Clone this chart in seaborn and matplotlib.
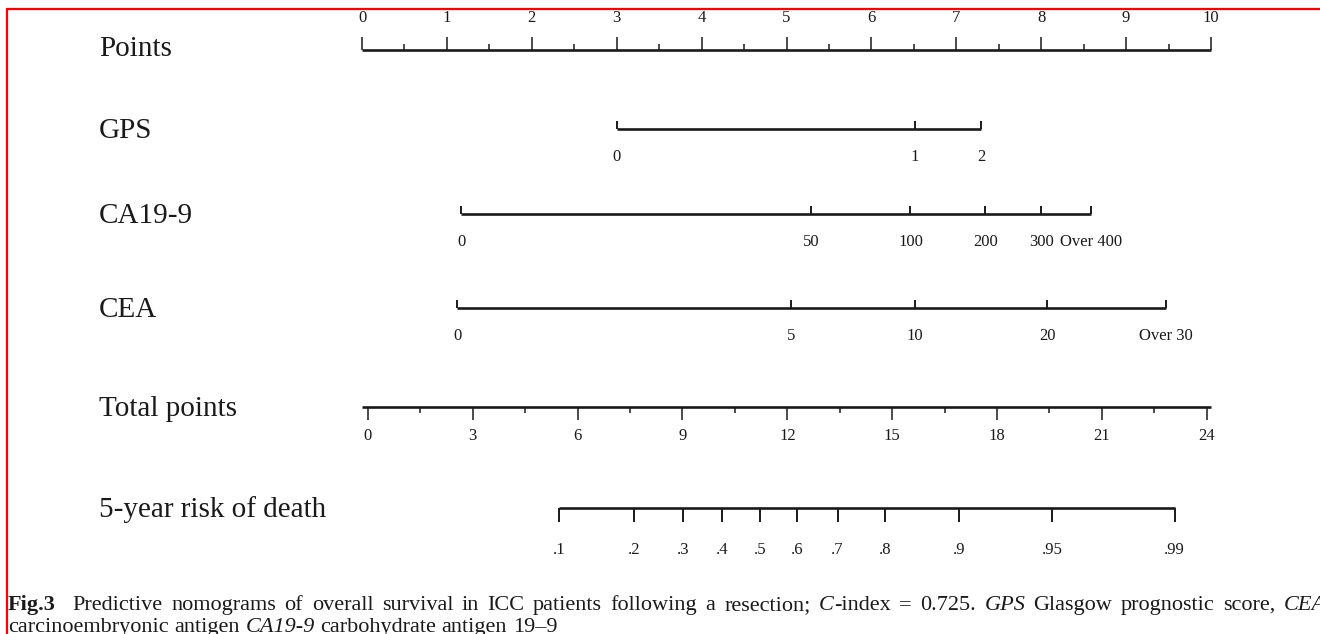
"""
Nomogram for 5-year risk of death after ICC resection (Fig.3 recreation)
"""
import matplotlib
matplotlib.use("Agg")
import matplotlib.pyplot as plt
import matplotlib.transforms as mtransforms
import seaborn as sns

# ── Data (positions on the 0–10 "Points" axis) ──────────────────────────────

points_major = [0, 1, 2, 3, 4, 5, 6, 7, 8, 9, 10]
points_minor = [0.5, 1.5, 2.5, 3.5, 4.5, 5.5, 6.5, 7.5, 8.5, 9.5]

gps_labels = ["0", "1", "2"]
gps_points = [3.00, 6.51, 7.29]

ca199_labels = ["0", "50", "100", "200", "300", "Over 400"]
ca199_points = [1.17, 5.29, 6.46, 7.34, 8.00, 8.59]

cea_labels = ["0", "5", "10", "20", "Over 30"]
cea_points = [1.12, 5.05, 6.51, 8.07, 9.47]

total_major = [0, 3, 6, 9, 12, 15, 18, 21, 24]
total_minor = [1.5, 4.5, 7.5, 10.5, 13.5, 16.5, 19.5, 22.5]
total_ends = (0.07, 9.95)      # total points 0 and 24 on the Points axis

risk_labels = [".1", ".2", ".3", ".4", ".5", ".6", ".7", ".8", ".9", ".95", ".99"]
risk_total = [5.46, 7.61, 9.01, 10.13, 11.21, 12.27, 13.44, 14.79, 16.91, 19.57, 23.08]

row_names = ["Points", "GPS", "CA19-9", "CEA", "Total points", "5-year risk of death"]

# caption tokens: (text, style, weight, spaces after)
caption_1 = [
    ("Fig.3", "normal", "bold", 2),
    ("Predictive", "normal", "normal", 1), ("nomograms", "normal", "normal", 1),
    ("of", "normal", "normal", 1), ("overall", "normal", "normal", 1),
    ("survival", "normal", "normal", 1), ("in", "normal", "normal", 1),
    ("ICC", "normal", "normal", 1), ("patients", "normal", "normal", 1),
    ("following", "normal", "normal", 1), ("a", "normal", "normal", 1),
    ("resection;", "normal", "normal", 1),
    ("C", "italic", "normal", 0), ("-index", "normal", "normal", 1),
    ("=", "normal", "normal", 1), ("0.725.", "normal", "normal", 1),
    ("GPS", "italic", "normal", 1), ("Glasgow", "normal", "normal", 1),
    ("prognostic", "normal", "normal", 1), ("score,", "normal", "normal", 1),
    ("CEA", "italic", "normal", 0),
]
caption_2 = [
    ("carcinoembryonic", "normal", "normal", 1), ("antigen", "normal", "normal", 1),
    ("CA19-9", "italic", "normal", 1), ("carbohydrate", "normal", "normal", 1),
    ("antigen", "normal", "normal", 1), ("19\u20139", "normal", "normal", 0),
]

# ── Layout (pixels of the 1320x634 canvas) ───────────────────────────────────

W, H = 1320, 634
PX0, PX_PER_PT = 362, 84.9
ROW_Y = [50, 129, 214, 308, 407, 508]

sns.set_theme(style="white")
plt.rcParams["font.family"] = ["Liberation Serif", "DejaVu Serif"]

INK = "#1a1a1a"
LW_AXIS = 1.9
LW_TICK = 1.1
FS_TICK = 12
FS_ROW = 21
FS_CAP = 16


def tp_to_pts(tp):
    lo, hi = total_ends
    return [lo + t * (hi - lo) / 24 for t in tp]


fig = plt.figure(figsize=(W / 100, H / 100), dpi=100)
ax = fig.add_axes([0, 0, 1, 1])
ax.set_xlim(-PX0 / PX_PER_PT, (W - PX0) / PX_PER_PT)
ax.set_ylim(H, 0)
ax.set_axis_off()

# pixel transform (origin top-left) for frame, row names and caption
pix = mtransforms.Affine2D().scale(1 / W, -1 / H).translate(0, 1) + fig.transFigure

# ── Points ─────────────────────────────────────────────────────────────────────
y = ROW_Y[0]
ax.hlines(y, 0, 10, color=INK, lw=LW_AXIS)
ax.vlines(points_major, y - 13, y, color=INK, lw=LW_TICK)
ax.vlines(points_minor, y - 6, y, color=INK, lw=LW_TICK)
for v in points_major:
    ax.text(v, 18, str(v), ha="center", va="center", fontsize=FS_TICK, color=INK)

# ── Predictor scales (ticks up, labels below) ─────────────────────────────────
for y, pts, labs in [(ROW_Y[1], gps_points, gps_labels),
                     (ROW_Y[2], ca199_points, ca199_labels),
                     (ROW_Y[3], cea_points, cea_labels)]:
    ax.hlines(y, pts[0], pts[-1], color=INK, lw=LW_AXIS)
    ax.vlines(pts, y - 8, y, color=INK, lw=1.4)
    for p, lab in zip(pts, labs):
        ax.text(p, y + 28, lab, ha="center", va="center", fontsize=FS_TICK, color=INK)

# ── Total points ───────────────────────────────────────────────────────────────
y = ROW_Y[4]
ax.hlines(y, 0, 10, color=INK, lw=LW_AXIS)
ax.vlines(tp_to_pts(total_major), y, y + 13, color=INK, lw=LW_TICK)
ax.vlines(tp_to_pts(total_minor), y, y + 6, color=INK, lw=LW_TICK)
for p, v in zip(tp_to_pts(total_major), total_major):
    ax.text(p, y + 29, str(v), ha="center", va="center", fontsize=FS_TICK, color=INK)

# ── 5-year risk of death ───────────────────────────────────────────────────────
y = ROW_Y[5]
risk_pts = tp_to_pts(risk_total)
ax.hlines(y, risk_pts[0], risk_pts[-1], color=INK, lw=LW_AXIS)
ax.vlines(risk_pts, y, y + 14, color=INK, lw=1.4)
for p, lab in zip(risk_pts, risk_labels):
    ax.text(p, y + 42, lab, ha="center", va="center", fontsize=FS_TICK, color=INK)

# ── Row names ──────────────────────────────────────────────────────────────────
for name, ry in zip(row_names, ROW_Y):
    off = 6 if name == "Points" else 9
    ax.text(99, ry + off, name, transform=pix, ha="left", va="baseline",
            fontsize=FS_ROW, color=INK)

# ── Red frame (top and left edges) ─────────────────────────────────────────────
ax.plot([7, W], [9, 9], color="red", lw=1.6, transform=pix, clip_on=False)
ax.plot([7, 7], [9, H], color="red", lw=1.6, transform=pix, clip_on=False)

# ── Caption, word by word so bold / italic words sit inline ───────────────────
renderer = fig.canvas.get_renderer()
scale = W / fig.bbox.width


def text_w(s, **kw):
    t = ax.text(0, 0, s, transform=pix, fontsize=FS_CAP, **kw)
    w = t.get_window_extent(renderer).width * scale
    t.remove()
    return w


space_w = text_w("x x") - text_w("xx")


def draw_caption(tokens, x0, yb, right=None):
    widths = [text_w(s, fontstyle=st, fontweight=wt) for s, st, wt, _ in tokens]
    n_gaps = sum(g for *_, g in tokens)
    gap = space_w
    if right is not None:
        gap = (right - x0 - sum(widths)) / n_gaps
    x = x0
    for (s, st, wt, g), w in zip(tokens, widths):
        ax.text(x, yb, s, transform=pix, ha="left", va="baseline", fontsize=FS_CAP,
                fontstyle=st, fontweight=wt, color=INK)
        x += w + g * gap


draw_caption(caption_1, 8, 610, right=1326)
draw_caption(caption_2, 8, 632)

fig.savefig("out.png", dpi=100)
